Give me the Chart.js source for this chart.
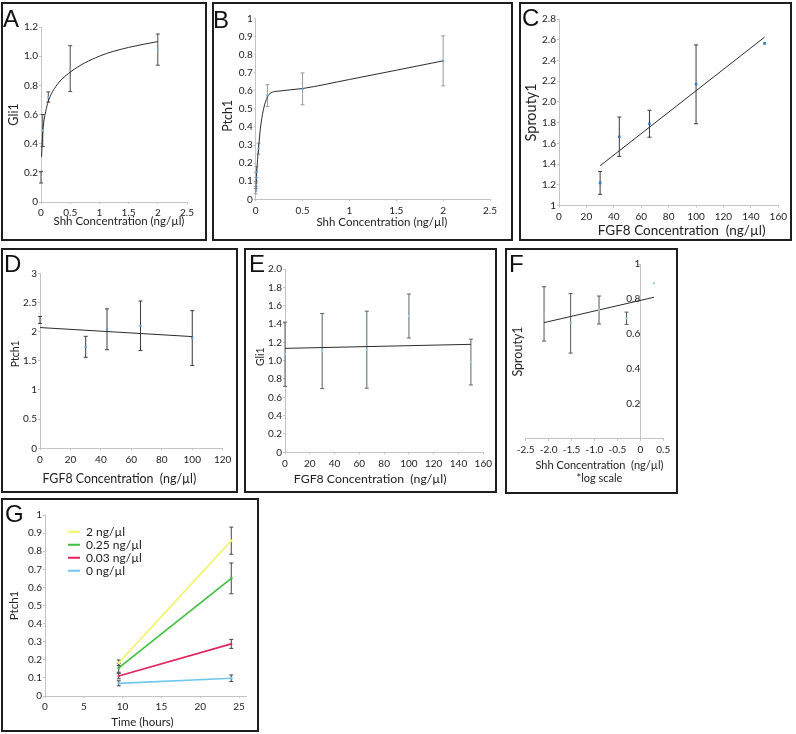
<!DOCTYPE html>
<html>
<head>
<meta charset="utf-8">
<script src="https://cdn.jsdelivr.net/npm/chart.js@4.4.1/dist/chart.umd.min.js"></script>
<style>
  body { margin: 0; background: #fff; }
  #fig { position: relative; width: 796px; height: 734px; overflow: hidden; }
  .box { position: absolute; border: 2px solid #1e1e1e; box-sizing: border-box; }
  .box canvas { position: absolute; left: 0; top: 0; }
  .tag { position: absolute; font: 24px/1 "Liberation Sans", Arial, sans-serif; color: #111; }
</style>
</head>
<body>
<div id="fig"></div>
<script>
// ---- A: Gli1 vs Shh
const aShh = [0, 0.03, 0.125, 0.5, 2];
const aGli1 = [0.17, 0.49, 0.72, 0.915, 1.045];
const aGli1Err = [0.04, 0.11, 0.035, 0.157, 0.107];
const aFitShh = [0.01, 0.02, 0.04, 0.08, 0.125, 0.25, 0.5, 1, 1.5, 2];
const aFitGli1 = [0.31, 0.41, 0.52, 0.62, 0.69, 0.79, 0.89, 1.0, 1.06, 1.1];
const aXTicks = ['0', '0.5', '1', '1.5', '2', '2.5'];
const aYTicks = ['0', '0.2', '0.4', '0.6', '0.8', '1.0', '1.2'];

// ---- B: Ptch1 vs Shh
const bShh = [0, 0.002, 0.004, 0.008, 0.03, 0.125, 0.5, 2];
const bPtch1 = [0.05, 0.08, 0.12, 0.15, 0.28, 0.573, 0.61, 0.765];
const bPtch1Err = [0.02, 0.02, 0.03, 0.03, 0.03, 0.06, 0.088, 0.138];
const bFitShh = [0, 0.01, 0.02, 0.03, 0.05, 0.08, 0.125, 0.16, 0.25, 0.5, 1, 1.5, 2];
const bFitPtch1 = [0.04, 0.14, 0.22, 0.28, 0.39, 0.49, 0.565, 0.587, 0.598, 0.612, 0.662, 0.713, 0.765];
const bXTicks = ['0', '0.5', '1', '1.5', '2', '2.5'];
const bYTicks = ['0', '0.1', '0.2', '0.3', '0.4', '0.5', '0.6', '0.7', '0.8', '0.9', '1'];

// ---- C: Sprouty1 vs FGF8
const cFgf8 = [30, 44, 66, 100, 150];
const cSprouty1 = [1.22, 1.665, 1.79, 2.17, 2.565];
const cSprouty1Err = [0.11, 0.19, 0.13, 0.38, 0];
const cFitFgf8 = [30, 150];
const cFitSprouty1 = [1.385, 2.625];
const cXTicks = ['0', '20', '40', '60', '80', '100', '120', '140', '160'];
const cYTicks = ['1', '1.2', '1.4', '1.6', '1.8', '2.0', '2.2', '2.4', '2.6', '2.8'];

// ---- D: Ptch1 vs FGF8
const dFgf8 = [0, 30, 44, 66, 100];
const dPtch1 = [2.2, 1.74, 2.04, 2.1, 1.89];
const dPtch1Err = [0.06, 0.18, 0.35, 0.425, 0.47];
const dFitFgf8 = [0, 100];
const dFitPtch1 = [2.07, 1.915];
const dXTicks = ['0', '20', '40', '60', '80', '100', '120'];
const dYTicks = ['0', '0.5', '1', '1.5', '2', '2.5', '3'];

// ---- E: Gli1 vs FGF8
const eFgf8 = [0, 30, 66, 100, 150];
const eGli1 = [1.07, 1.105, 1.12, 1.487, 0.985];
const eGli1Err = [0.35, 0.41, 0.42, 0.24, 0.25];
const eFitFgf8 = [0, 150];
const eFitGli1 = [1.134, 1.178];
const eXTicks = ['0', '20', '40', '60', '80', '100', '120', '140', '160'];
const eYTicks = ['0', '0.2', '0.4', '0.6', '0.8', '1.0', '1.2', '1.4', '1.6', '1.8', '2.0'];

// ---- F: Sprouty1 vs log Shh
const fLogShh = [-2.1, -1.52, -0.9, -0.3, 0.3];
const fSprouty1 = [0.715, 0.661, 0.737, 0.69, 0.89];
const fSprouty1Err = [0.155, 0.17, 0.08, 0.035, 0];
const fFitLogShh = [-2.1, 0.3];
const fFitSprouty1 = [0.665, 0.81];
const fXTicks = ['-2.5', '-2.0', '-1.5', '-1.0', '-0.5', '0', '0.5'];
const fYTicks = ['0.2', '0.4', '0.6', '0.8', '1'];

// ---- G: Ptch1 over time
const gHours = [9.5, 24];
const gSeries = ['2 ng/µl', '0.25 ng/µl', '0.03 ng/µl', '0 ng/µl'];
const gColors = ['#f2f266', '#3fbf3f', '#e2245a', '#72c6ec'];
const gPtch1 = [[0.184, 0.858], [0.156, 0.65], [0.11, 0.288], [0.07, 0.098]];
const gPtch1Err = [[0.015, 0.075], [0.025, 0.085], [0.015, 0.025], [0.014, 0.018]];
const gXTicks = ['0', '5', '10', '15', '20', '25'];
const gYTicks = ['0', '0.1', '0.2', '0.3', '0.4', '0.5', '0.6', '0.7', '0.8', '0.9', '1'];

const FONT = 'Lato, "Open Sans", sans-serif';
const tickFont = { family: FONT, size: 10 };
const axisColor = '#c4c4c4';
const ink = '#222';
const fitColor = '#2b2b2b';
Chart.defaults.font.family = FONT;

function pts(xs, ys) {
  return xs.map((x, i) => ({ x, y: ys[i] }));
}

// vertical error bars with caps, drawn under the points
Chart.register({
  id: 'errorBars',
  beforeDatasetsDraw(chart) {
    const { ctx, scales } = chart;
    chart.data.datasets.forEach(ds => {
      if (!ds.errors) return;
      const x = scales.x, y = scales.y;
      ctx.save();
      ctx.strokeStyle = ds.errorColor || '#444';
      ctx.lineWidth = 1;
      ds.data.forEach((p, j) => {
        const e = ds.errors[j];
        if (!e) return;
        const px = x.getPixelForValue(p.x);
        const top = y.getPixelForValue(p.y + e);
        const bot = y.getPixelForValue(p.y - e);
        ctx.beginPath();
        ctx.moveTo(px, top); ctx.lineTo(px, bot);
        ctx.moveTo(px - 2, top); ctx.lineTo(px + 2, top);
        ctx.moveTo(px - 2, bot); ctx.lineTo(px + 2, bot);
        ctx.stroke();
      });
      ctx.restore();
    });
  }
});

function axis(o, size, horizontal) {
  return {
    type: 'linear',
    min: o.min,
    max: o.max,
    position: horizontal ? 'bottom' : 'left',
    border: { display: true, color: axisColor, width: 1 },
    grid: { display: true, drawOnChartArea: false, drawTicks: true, tickLength: 2, color: axisColor },
    ticks: {
      autoSkip: false, maxRotation: 0, padding: horizontal ? 3 : 1,
      color: ink, font: tickFont,
      callback: (v, i) => o.ticks[i]
    },
    afterBuildTicks: s => { s.ticks = o.ticks.map(t => ({ value: parseFloat(t) })); },
    afterFit: s => { if (horizontal) s.height = size; else s.width = size; },
    title: { display: !!o.title, text: o.title, color: ink, font: { family: FONT, size: o.titleSize || 12 }, padding: 0 }
  };
}

// nudge a scale title by [dx, dy] pixels
function shiftTitle(scale, d) {
  if (!scale || !d) return;
  const orig = scale.drawTitle.bind(scale);
  scale.drawTitle = function () {
    const c = this.ctx;
    c.save();
    c.translate(d[0], d[1]);
    orig();
    c.restore();
  };
}

function panel(p) {
  const fig = document.getElementById('fig');
  const box = document.createElement('div');
  box.className = 'box';
  box.style.left = p.box[0] + 'px';
  box.style.top = p.box[1] + 'px';
  box.style.width = p.box[2] + 'px';
  box.style.height = p.box[3] + 'px';
  const cv = document.createElement('canvas');
  cv.width = p.box[2] - 4;
  cv.height = p.box[3] - 4;
  box.appendChild(cv);
  fig.appendChild(box);

  const tag = document.createElement('div');
  tag.className = 'tag';
  tag.textContent = p.tag;
  tag.style.left = p.tagPos[0] + 'px';
  tag.style.top = p.tagPos[1] + 'px';
  fig.appendChild(tag);

  const ix = p.box[0] + 2, iy = p.box[1] + 2, iw = p.box[2] - 4, ih = p.box[3] - 4;
  const lhY = (p.y.titleSize || 12) * 1.2;
  const lhX = (p.x.titleSize || 12) * 1.2;
  const padL = p.yTitleX - ix - lhY / 2;
  const padT = p.plot[1] - iy;
  const padR = ix + iw - p.plot[2];
  const padB = iy + ih - p.xTitleY - lhX / 2;
  const yW = p.plot[0] - ix - padL;
  const xH = iy + ih - padB - p.plot[3];

  const scales = {
    x: axis(p.x, xH, true),
    y: axis(p.y, yW, false)
  };
  if (p.yAtZero) {
    // ticks sit on x = 0, the title stays at the left edge on a bare axis
    scales.y.position = { x: 0 };
    scales.y.afterFit = s => { s.width = 0; };
    scales.y.title = { display: false };
    scales.yt = {
      type: 'linear', min: p.y.min, max: p.y.max, position: 'left',
      border: { display: false }, grid: { display: false }, ticks: { display: false },
      afterFit: s => { s.width = yW; },
      title: { display: true, text: p.y.title, color: ink, font: { family: FONT, size: p.y.titleSize || 12 }, padding: 0 }
    };
  }

  const chart = new Chart(cv, {
    type: 'scatter',
    data: { datasets: p.datasets },
    options: {
      responsive: false,
      animation: false,
      events: [],
      layout: { padding: { left: padL, top: padT, right: padR, bottom: padB } },
      scales,
      plugins: {
        legend: p.legend || { display: false },
        tooltip: { enabled: false }
      }
    },
    plugins: p.plugins || []
  });
  shiftTitle(chart.scales.x, p.x.shift);
  shiftTitle(p.yAtZero ? chart.scales.yt : chart.scales.y, p.y.shift);
  chart.draw();
  return chart;
}

function pointSet(xs, ys, errs, color, errColor, r) {
  return {
    data: pts(xs, ys), errors: errs, errorColor: errColor,
    pointStyle: 'rect', pointRadius: r || 1.4, pointBackgroundColor: color,
    pointBorderWidth: 0, showLine: false
  };
}

function fitSet(xs, ys, curved) {
  return {
    data: pts(xs, ys), showLine: true, pointRadius: 0, fill: false,
    borderColor: fitColor, borderWidth: 1,
    cubicInterpolationMode: curved ? 'monotone' : 'default'
  };
}

const shhTitle = 'Shh Concentration (ng/µl)';
const fgfTitle = 'FGF8 Concentration  (ng/µl)';

panel({
  tag: 'A', tagPos: [3, 7], box: [1, 2, 206, 239], plot: [41, 27, 187, 202], yTitleX: 14.2, xTitleY: 221,
  x: { min: 0, max: 2.5, ticks: aXTicks, title: shhTitle, titleSize: 11.5, shift: [5, 0] },
  y: { min: 0, max: 1.2, ticks: aYTicks, title: 'Gli1', titleSize: 12.5 },
  datasets: [pointSet(aShh, aGli1, aGli1Err, '#7fb4e0', '#4a4a4a'), fitSet(aFitShh, aFitGli1, true)]
});

panel({
  tag: 'B', tagPos: [213, 7.5], box: [212, 2, 301, 239], plot: [255.7, 18.3, 490, 199.3], yTitleX: 227.5, xTitleY: 222,
  x: { min: 0, max: 2.5, ticks: bXTicks, title: shhTitle, titleSize: 11.5, shift: [9, 0] },
  y: { min: 0, max: 1, ticks: bYTicks, title: 'Ptch1', titleSize: 12.5, shift: [0, 7] },
  datasets: [pointSet(bShh, bPtch1, bPtch1Err, '#5d9fdc', '#9a9a9a'), fitSet(bFitShh, bFitPtch1, true)]
});

panel({
  tag: 'C', tagPos: [522, 6], box: [519, 2, 273, 239], plot: [559, 19, 779.3, 205.7], yTitleX: 531.5, xTitleY: 230.8,
  x: { min: 0, max: 160, ticks: cXTicks, title: fgfTitle, titleSize: 13.5, shift: [13, 0] },
  y: { min: 1, max: 2.8, ticks: cYTicks, title: 'Sprouty1', titleSize: 14.5 },
  datasets: [pointSet(cFgf8, cSprouty1, cSprouty1Err, '#2f78c4', '#3a3a3a', 1.8), fitSet(cFitFgf8, cFitSprouty1)]
});

panel({
  tag: 'D', tagPos: [4, 252], box: [1, 248, 237, 245], plot: [40, 273.3, 222.7, 448.3], yTitleX: 16, xTitleY: 479.3,
  x: { min: 0, max: 120, ticks: dXTicks, title: fgfTitle, titleSize: 12.4, shift: [-12, 0] },
  y: { min: 0, max: 3, ticks: dYTicks, title: 'Ptch1', titleSize: 10.5, shift: [0, -7] },
  datasets: [pointSet(dFgf8, dPtch1, dPtch1Err, '#5a9ee0', '#3a3a3a', 1.6), fitSet(dFitFgf8, dFitPtch1)]
});

panel({
  tag: 'E', tagPos: [249, 252], box: [244, 248, 253, 245], plot: [285, 269, 483.3, 452.3], yTitleX: 261, xTitleY: 478.8,
  x: { min: 0, max: 160, ticks: eXTicks, title: fgfTitle, titleSize: 12.3, shift: [-14, 0] },
  y: { min: 0, max: 2, ticks: eYTicks, title: 'Gli1', titleSize: 10.5, shift: [0, -4] },
  datasets: [pointSet(eFgf8, eGli1, eGli1Err, '#9fd0ec', '#55656c'), fitSet(eFitFgf8, eFitGli1)]
});

panel({
  tag: 'F', tagPos: [509, 252], box: [505, 248, 173, 246], plot: [525.7, 264, 663.2, 439], yTitleX: 517.5, xTitleY: 478.6,
  x: { min: -2.5, max: 0.5, ticks: fXTicks, title: ['Shh Concentration  (ng/µl)', '*log scale'], titleSize: 11, shift: [5, 0] },
  y: { min: 0, max: 1, ticks: fYTicks, title: 'Sprouty1', titleSize: 12.5 },
  yAtZero: true,
  datasets: [pointSet(fLogShh, fSprouty1, fSprouty1Err, '#8dc6ea', '#555'), fitSet(fFitLogShh, fFitSprouty1)]
});

panel({
  tag: 'G', tagPos: [5, 502], box: [1, 498, 258, 234], plot: [45, 515, 246.8, 696], yTitleX: 14.5, xTitleY: 721.8,
  x: { min: 0, max: 26, ticks: gXTicks, title: 'Time (hours)', titleSize: 11.5, shift: [-3.5, 0] },
  y: { min: 0, max: 1, ticks: gYTicks, title: 'Ptch1', titleSize: 11.5 },
  datasets: gSeries.map((name, i) => ({
    label: name,
    data: pts(gHours, gPtch1[i]),
    errors: gPtch1Err[i], errorColor: '#444',
    showLine: true, fill: false,
    borderColor: gColors[i], backgroundColor: gColors[i], borderWidth: 1.6,
    pointStyle: i === 2 ? 'triangle' : 'rect', pointRadius: 1.8, pointBorderWidth: 0
  })),
  legend: {
    display: true, position: 'chartArea', align: 'start',
    labels: {
      usePointStyle: true, pointStyle: 'line', pointStyleWidth: 12, boxHeight: 12,
      padding: 1, color: ink, font: { family: FONT, size: 12 },
      generateLabels: chart => chart.data.datasets.map((ds, i) => ({
        text: ds.label, datasetIndex: i, hidden: false,
        fillStyle: ds.borderColor, strokeStyle: ds.borderColor,
        lineWidth: 2, pointStyle: 'line', fontColor: ink
      }))
    }
  },
  plugins: [{
    id: 'legendSpot',
    afterLayout(chart) {
      const l = chart.legend;
      if (!l) return;
      l.left = 64; l.top = 24.7;
      l.width = 130; l.height = 70;
      l.right = l.left + l.width; l.bottom = l.top + l.height;
    }
  }]
});
</script>
</body>
</html>
